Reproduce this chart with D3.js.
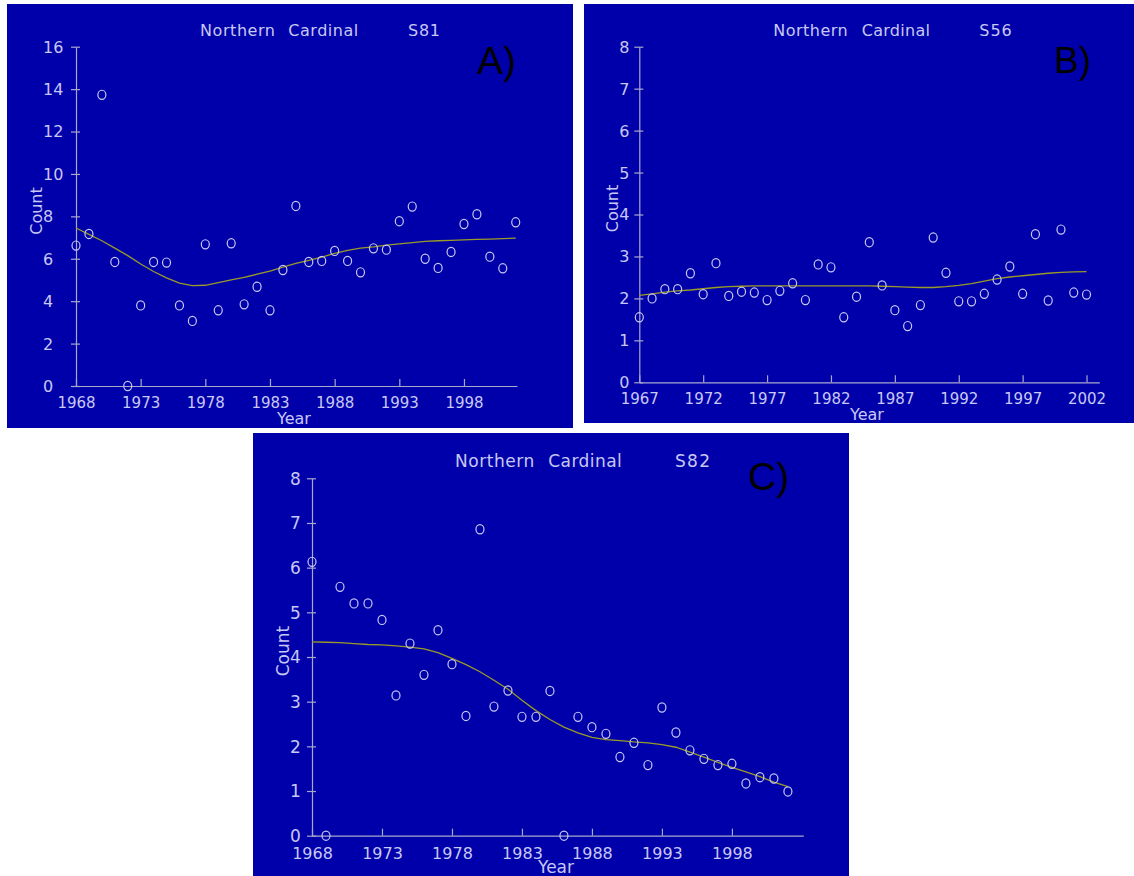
<!DOCTYPE html>
<html><head><meta charset="utf-8">
<script src="https://cdn.jsdelivr.net/npm/d3@7/dist/d3.min.js"></script>
<style>body{margin:0;background:#fff}svg{display:block}</style>
</head><body>
<svg id="chart" width="1134" height="876"></svg>
<script>
// ---------- DATA ----------
const yearsA = [1968,1969,1970,1971,1972,1973,1974,1975,1976,1977,1978,1979,1980,1981,1982,1983,1984,1985,1986,1987,1988,1989,1990,1991,1992,1993,1994,1995,1996,1997,1998,1999,2000,2001,2002];
const countsA = [6.62,7.17,13.73,5.85,0,3.8,5.85,5.82,3.8,3.07,6.68,3.57,6.73,3.85,4.68,3.57,5.47,8.49,5.85,5.9,6.37,5.9,5.36,6.49,6.43,7.77,8.46,6.0,5.57,6.32,7.64,8.1,6.1,5.55,7.72];
const smoothA = [7.45,7.15,6.85,6.5,6.15,5.75,5.4,5.1,4.85,4.73,4.75,4.88,5.0,5.12,5.27,5.42,5.6,5.78,5.92,6.08,6.25,6.4,6.5,6.56,6.64,6.7,6.76,6.82,6.85,6.87,6.89,6.91,6.93,6.95,6.97];

const yearsB = [1967,1968,1969,1970,1971,1972,1973,1974,1975,1976,1977,1978,1979,1980,1981,1982,1983,1984,1985,1986,1987,1988,1989,1990,1991,1992,1993,1994,1995,1996,1997,1998,1999,2000,2001,2002];
const countsB = [1.55,2.0,2.22,2.22,2.6,2.1,2.84,2.06,2.16,2.14,1.96,2.18,2.36,1.96,2.81,2.74,1.55,2.04,3.34,2.31,1.72,1.34,1.84,3.45,2.61,1.93,1.93,2.11,2.45,2.76,2.11,3.53,1.95,3.64,2.14,2.09];
const smoothB = [2.07,2.11,2.15,2.18,2.2,2.23,2.26,2.28,2.29,2.3,2.3,2.3,2.3,2.3,2.3,2.3,2.3,2.3,2.3,2.29,2.28,2.27,2.26,2.26,2.28,2.31,2.35,2.41,2.47,2.51,2.54,2.57,2.6,2.62,2.63,2.64];

const yearsC = [1968,1969,1970,1971,1972,1973,1974,1975,1976,1977,1978,1979,1980,1981,1982,1983,1984,1985,1986,1987,1988,1989,1990,1991,1992,1993,1994,1995,1996,1997,1998,1999,2000,2001,2002];
const countsC = [6.13,0,5.57,5.2,5.2,4.83,3.14,4.3,3.6,4.6,3.84,2.68,6.86,2.89,3.25,2.66,2.66,3.24,0,2.66,2.43,2.28,1.76,2.08,1.58,2.87,2.31,1.91,1.72,1.58,1.61,1.17,1.31,1.28,0.99];
const smoothC = [4.34,4.33,4.32,4.3,4.28,4.27,4.25,4.22,4.18,4.1,3.97,3.83,3.67,3.48,3.28,3.03,2.8,2.6,2.43,2.3,2.2,2.15,2.13,2.1,2.08,2.04,1.98,1.87,1.76,1.64,1.53,1.43,1.32,1.2,1.1];

const xTicksA = [1968,1973,1978,1983,1988,1993,1998];
const xTicksB = [1967,1972,1977,1982,1987,1992,1997,2002];
const xTicksC = [1968,1973,1978,1983,1988,1993,1998];
const yTicksA = [0,2,4,6,8,10,12,14,16];
const yTicksB = [0,1,2,3,4,5,6,7,8];
const yTicksC = [0,1,2,3,4,5,6,7,8];

const titleWords = ["Northern", "Cardinal"];
const routes = ["S81", "S56", "S82"];
const panelLetters = ["A)", "B)", "C)"];

// ---------- STYLE ----------
const BG = "#0000aa", FG = "#c8c8f4", AXIS = "#a8a8cc", LINE = "#9a9a28";
const svg = d3.select("#chart");

const panels = [
  {rect:[7,4,566,424], years:yearsA, counts:countsA, smooth:smoothA, xt:xTicksA, yt:yTicksA,
   xd:[1968,2002.1], xr:[76,517], yd:[0,16], yr:[386,46.7], fs:15, ylx:-33,
   title:[[200,75],[288.3,70],[408,32]], titleY:36, route:routes[0],
   letter:panelLetters[0], lx:477, ly:74, lfs:39, countX:41.5, countY:211, yearX:294, yearY:424, lfsz:16},
  {rect:[584,4,550,419], years:yearsB, counts:countsB, smooth:smoothB, xt:xTicksB, yt:yTicksB,
   xd:[1967,2003], xr:[639.3,1099.3], yd:[0,8], yr:[382.3,46.7], fs:15, ylx:-20,
   title:[[773.3,74.4],[861.7,68.3],[979.3,32.4]], titleY:36, route:routes[1],
   letter:panelLetters[1], lx:1054, ly:73, lfs:37, countX:618, countY:208.5, yearX:867, yearY:420, lfsz:16},
  {rect:[253,433,596,443], years:yearsC, counts:countsC, smooth:smoothC, xt:xTicksC, yt:yTicksC,
   xd:[1968,2003.1], xr:[312,803.3], yd:[0,8], yr:[835.7,478.3], fs:16, ylx:-22,
   title:[[455,79.3],[548.3,73.4],[675,35]], titleY:466.7, route:routes[2],
   letter:panelLetters[2], lx:748, ly:490, lfs:39, countX:288.5, countY:651, yearX:556, yearY:873, lfsz:17}
];

const font = "'DejaVu Sans', sans-serif";

panels.forEach(p => {
  const g = svg.append("g");
  g.append("rect").attr("x",p.rect[0]).attr("y",p.rect[1]).attr("width",p.rect[2]).attr("height",p.rect[3]).attr("fill",BG);
  const x = d3.scaleLinear().domain(p.xd).range(p.xr);
  const y = d3.scaleLinear().domain(p.yd).range(p.yr);

  // x axis
  const gx = g.append("g").attr("transform",`translate(0,${y(0)})`)
    .call(d3.axisBottom(x).tickValues(p.xt).tickFormat(d3.format("d")).tickSize(0).tickPadding(0));
  gx.select(".domain").attr("stroke",AXIS).attr("stroke-width",1.2);
  gx.selectAll(".tick line").attr("stroke",AXIS).attr("stroke-width",1.2).attr("y1",-7).attr("y2",0);
  gx.selectAll(".tick text").attr("fill",FG).attr("font-family",font).attr("font-size",p.fs)
    .attr("y", p.fs*1.4+0.5).attr("dy",0);

  // y axis (labels left-aligned as in the original)
  const gy = g.append("g").attr("transform",`translate(${x(p.xd[0])},0)`)
    .call(d3.axisLeft(y).tickValues(p.yt).tickFormat(d3.format("d")).tickSize(0).tickPadding(0));
  gy.select(".domain").attr("stroke",AXIS).attr("stroke-width",1.2);
  gy.selectAll(".tick line").attr("stroke",AXIS).attr("stroke-width",1.2).attr("x1",-5).attr("x2",4);
  gy.selectAll(".tick text").attr("fill",FG).attr("font-family",font).attr("font-size",p.fs+1)
    .attr("text-anchor","start").attr("x",p.ylx).attr("dy","0.34em");
  g.selectAll(".domain").attr("fill","none");

  // smooth line
  const ln = d3.line().x((d,i)=>x(p.years[i])).y(d=>y(d));
  g.append("path").attr("d",ln(p.smooth)).attr("fill","none").attr("stroke",LINE).attr("stroke-width",1.3);

  // points
  g.selectAll("ellipse.pt").data(p.counts).join("ellipse").attr("class","pt")
    .attr("cx",(d,i)=>x(p.years[i])).attr("cy",d=>y(d))
    .attr("rx",4).attr("ry",4.6).attr("fill","none").attr("stroke",FG).attr("stroke-width",1.2);

  // title
  const words = [titleWords[0], titleWords[1], p.route];
  words.forEach((w,i)=>{
    g.append("text").attr("x",p.title[i][0]).attr("y",p.titleY).attr("textLength",p.title[i][1])
      .attr("fill",FG).attr("font-family",font).attr("font-size",p.lfsz).text(w);
  });

  // axis titles
  g.append("text").attr("x",p.yearX).attr("y",p.yearY).attr("text-anchor","middle")
    .attr("fill",FG).attr("font-family",font).attr("font-size",p.lfsz).text("Year");
  g.append("text").attr("transform",`translate(${p.countX},${p.countY}) rotate(-90)`).attr("text-anchor","middle")
    .attr("fill",FG).attr("font-family",font).attr("font-size",p.lfsz).text("Count");

  // panel letter
  g.append("text").attr("x",p.lx).attr("y",p.ly).attr("fill","#000")
    .attr("font-family","'Liberation Sans', Arial, sans-serif").attr("font-size",p.lfs).text(p.letter);
});
</script>
</body></html>
